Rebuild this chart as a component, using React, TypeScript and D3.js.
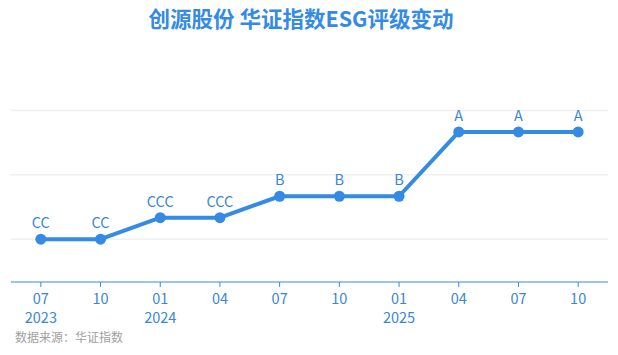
import React, { useEffect, useRef } from 'react';
import * as d3 from 'd3';

const periods = ['2023-07', '2023-10', '2024-01', '2024-04', '2024-07', '2024-10', '2025-01', '2025-04', '2025-07', '2025-10'];
const ratings = ['CC', 'CC', 'CCC', 'CCC', 'B', 'B', 'B', 'A', 'A', 'A'];
const levelOrder = ['C', 'CC', 'CCC', 'B', 'BB', 'BBB', 'A', 'AA', 'AAA'];
const gridValues = [2, 5, 8];

const FONT = '"Noto Sans CJK SC", "Noto Sans", sans-serif';
const BLUE = '#338be6';

export default function App() {
  const svgRef = useRef<SVGSVGElement>(null);

  useEffect(() => {
    if (!svgRef.current) return;
    const svg = d3.select(svgRef.current);
    svg.selectAll('*').remove();

    const width = 618;

    const x = d3.scaleBand<string>().domain(periods).range([11, 608]);
    const y = d3.scaleLinear().domain([0, 8]).range([282, 110.5]);
    const val = (r: string) => levelOrder.indexOf(r) + 1;
    const cx = (p: string) => (x(p) || 0) + x.bandwidth() / 2;

    // title
    svg.append('text')
      .attr('x', width / 2 - 8)
      .attr('y', 27)
      .attr('text-anchor', 'middle')
      .attr('font-family', FONT)
      .attr('font-size', 21.5)
      .attr('font-weight', 'bold')
      .attr('fill', BLUE)
      .text('创源股份 华证指数ESG评级变动');

    // grid
    svg.selectAll('.grid')
      .data(gridValues)
      .enter()
      .append('line')
      .attr('x1', 11)
      .attr('x2', 608)
      .attr('y1', d => y(d))
      .attr('y2', d => y(d))
      .attr('stroke', '#f0f0f0')
      .attr('stroke-width', 1.5);

    // axis
    svg.append('line')
      .attr('x1', 11)
      .attr('x2', 608)
      .attr('y1', y(0))
      .attr('y2', y(0))
      .attr('stroke', BLUE)
      .attr('stroke-width', 1.2);

    const ticks = svg.selectAll('.tick')
      .data(periods)
      .enter()
      .append('g')
      .attr('transform', d => `translate(${cx(d)},${y(0)})`);

    ticks.append('line')
      .attr('y1', 0)
      .attr('y2', 5)
      .attr('stroke', BLUE)
      .attr('stroke-width', 1);

    ticks.append('text')
      .attr('y', 22)
      .attr('text-anchor', 'middle')
      .attr('font-family', FONT)
      .attr('font-size', 14.5)
      .attr('fill', '#3a86d4')
      .text(d => d.split('-')[1]);

    ticks.filter((d, i) => i === 0 || d.endsWith('-01'))
      .append('text')
      .attr('y', 41)
      .attr('text-anchor', 'middle')
      .attr('font-family', FONT)
      .attr('font-size', 14.5)
      .attr('fill', '#3a86d4')
      .text(d => d.split('-')[0]);

    // line
    const line = d3.line<string>()
      .x((d, i) => cx(periods[i]))
      .y(d => y(val(d)));

    svg.append('path')
      .datum(ratings)
      .attr('d', line)
      .attr('fill', 'none')
      .attr('stroke', BLUE)
      .attr('stroke-width', 4)
      .attr('stroke-linejoin', 'round');

    svg.selectAll('.pt')
      .data(ratings)
      .enter()
      .append('circle')
      .attr('cx', (d, i) => cx(periods[i]))
      .attr('cy', d => y(val(d)))
      .attr('r', 5.5)
      .attr('fill', BLUE);

    svg.selectAll('.lbl')
      .data(ratings)
      .enter()
      .append('text')
      .attr('x', (d, i) => cx(periods[i]))
      .attr('y', d => y(val(d)) - 11)
      .attr('text-anchor', 'middle')
      .attr('font-family', FONT)
      .attr('font-size', 14.5)
      .attr('fill', '#3a86d4')
      .text(d => d);

    // source
    svg.append('text')
      .attr('x', 15)
      .attr('y', 342)
      .attr('font-family', FONT)
      .attr('font-size', 12)
      .attr('fill', '#a0a0a0')
      .text('数据来源：华证指数');
  }, []);

  return (
    <div style={{ margin: -8 }}>
      <svg ref={svgRef} width={618} height={355} style={{ display: 'block', background: '#fff' }} />
    </div>
  );
}
